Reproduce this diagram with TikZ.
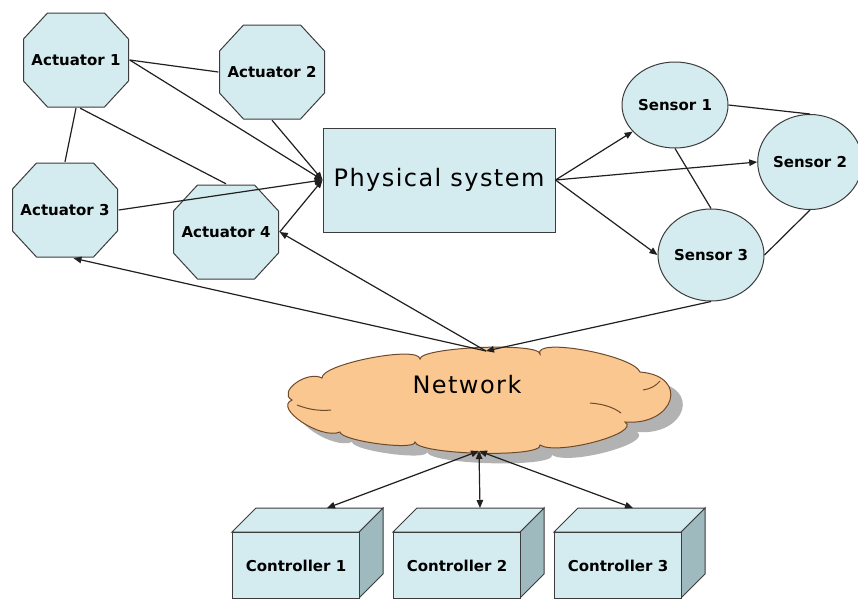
\documentclass[tikz,border=0pt]{standalone}
\usepackage{fontspec}
\setmainfont{DejaVu Sans}
\usetikzlibrary{shapes.geometric,arrows.meta}
\definecolor{boxfill}{HTML}{D4ECF0}
\definecolor{boxside}{HTML}{9FBABE}
\definecolor{edgegray}{HTML}{3C3C3C}
\definecolor{cloudfill}{HTML}{FBC791}
\definecolor{cloudedge}{HTML}{6E4A2A}
\definecolor{wirecol}{HTML}{202020}

% controller drawn as a 3D box: name, left x of front face, label, x of arrow tip
\newcommand\ctrlunit[4]{%
  \filldraw[fill=boxside, draw=edgegray, line width=1pt]
    ({#2+127},532) -- ({#2+151},508) -- ({#2+151},574) -- ({#2+127},598) -- cycle;
  \filldraw[fill=boxfill, draw=edgegray, line width=1pt]
    (#2,532) -- ({#2+24},508) -- ({#2+151},508) -- ({#2+127},532) -- cycle;
  \node[front] (#1) at (#2,532) {#3};
  \coordinate (#1top) at (#4,508);
}

% outline of the network cloud, one lobe per curve
\newcommand\cloudoutline{%
  (292,400) .. controls (277,392) and (307,370) .. (322,378)
            .. controls (321,364) and (419,345) .. (420,359)
            .. controls (420,347) and (540,342) .. (540,354)
            .. controls (533,337) and (633,355) .. (640,372)
            .. controls (690,376) and (675,426) .. (625,422)
            .. controls (642,433) and (557,456) .. (540,445)
            .. controls (543,458) and (418,455) .. (415,442)
            .. controls (416,451) and (341,441) .. (340,432)
            .. controls (321,440) and (273,408) .. (292,400) -- cycle}

\begin{document}
\begin{tikzpicture}[x=1pt,y=-1pt,
  lbl/.style={font=\fontsize{15}{17}\selectfont\bfseries},
  % octagon: 105 x 94 with cut corners, painted inside a slightly larger box
  octa/.style={rectangle, minimum width=107pt, minimum height=96pt, inner sep=0pt, lbl,
    path picture={
      \filldraw[fill=boxfill, draw=edgegray, line width=1pt]
        ([shift={(-28.5,-47)}]path picture bounding box.center) --
        ([shift={(28.5,-47)}]path picture bounding box.center) --
        ([shift={(52.5,-21)}]path picture bounding box.center) --
        ([shift={(52.5,21)}]path picture bounding box.center) --
        ([shift={(28.5,47)}]path picture bounding box.center) --
        ([shift={(-28.5,47)}]path picture bounding box.center) --
        ([shift={(-52.5,21)}]path picture bounding box.center) --
        ([shift={(-52.5,-21)}]path picture bounding box.center) -- cycle;
    }},
  sens/.style={ellipse, draw=edgegray, fill=boxfill, line width=1pt, inner sep=0pt, lbl},
  front/.style={rectangle, draw=edgegray, fill=boxfill, line width=1pt, anchor=north west,
    minimum width=127pt, minimum height=66pt, inner sep=0pt, lbl},
  wire/.style={draw=wirecol, line width=1.2pt},
  arr/.style={wire, -{Triangle[length=8pt,width=6.5pt]}},
  darr/.style={wire, {Triangle[length=8pt,width=6.5pt]}-{Triangle[length=8pt,width=6.5pt]}},
  bigtext/.style={font=\fontsize{24}{28}\selectfont\addfontfeatures{LetterSpace=6}},
]
\useasboundingbox (0,0) rectangle (858,598);
\fill[white] (0,0) rectangle (858,598);

% actuators
\node[octa] (a1) at (76,60) {Actuator 1};
\node[octa] (a2) at (272,72) {Actuator 2};
\node[octa] (a3) at (65,210) {Actuator 3};
\node[octa] (a4) at (226,232) {Actuator 4};

% plant
\node[draw=edgegray, fill=boxfill, line width=1pt, minimum width=232pt, minimum height=104pt,
  bigtext] (phys) at (439,180) {Physical system};

% sensors
\node[sens, minimum width=106pt, minimum height=86pt] (s1) at (675,105) {Sensor 1};
\node[sens, minimum width=100pt, minimum height=95pt] (s2) at (810,162) {Sensor 2};
\node[sens, minimum width=106pt, minimum height=92pt] (s3) at (711,255) {Sensor 3};

% network cloud with its shadow and creases
\fill[black!40, opacity=0.75, shift={(12,10)}] \cloudoutline;
\filldraw[fill=cloudfill, draw=cloudedge, line width=1pt] \cloudoutline;
\draw[cloudedge, line width=1pt] (297,405) .. controls (310,410) and (320,411) .. (331,410);
\draw[cloudedge, line width=1pt] (590,403) .. controls (603,404) and (613,407) .. (621,413);
\draw[cloudedge, line width=1pt] (643,390) .. controls (650,389) and (656,386) .. (660,381);
\node[bigtext] (net) at (467,385) {Network};
\coordinate (nettop) at (486,351);
\coordinate (netbot) at (479,451);

% controllers
\ctrlunit{c1}{232}{Controller 1}{327}
\ctrlunit{c2}{393}{Controller 2}{480}
\ctrlunit{c3}{554}{Controller 3}{633}

% links among actuators
\draw[wire] (a1.east) -- (a2.west);
\draw[wire] (a1.south) -- (a3.north);
\draw[wire] (a1.-85) -- (a4.north);

% actuators acting on the plant
\draw[arr] (a1.east) -- (phys.west);
\draw[arr] (a2.south) -- (phys.west);
\draw[arr] (a3.east) -- (phys.west);
\draw[arr] (a4.east) -- (phys.west);

% plant measured by sensors
\draw[arr] (phys.east) -- (s1);
\draw[arr] (phys.east) -- (s2.west);
\draw[arr] (phys.east) -- (s3.west);

% links among sensors
\draw[wire] (s1.east) -- (s2.north);
\draw[wire] (s1.south) -- (s3.north);
\draw[wire] (s2.south) -- (s3.east);

% network traffic
\draw[arr] (s3.south) -- (nettop);
\draw[arr] (nettop) -- (a3.-80);
\draw[arr] (nettop) -- (a4.east);
\draw[darr] (netbot) -- (c1top);
\draw[darr] (netbot) -- (c2top);
\draw[darr] (netbot) -- (c3top);
\end{tikzpicture}
\end{document}
